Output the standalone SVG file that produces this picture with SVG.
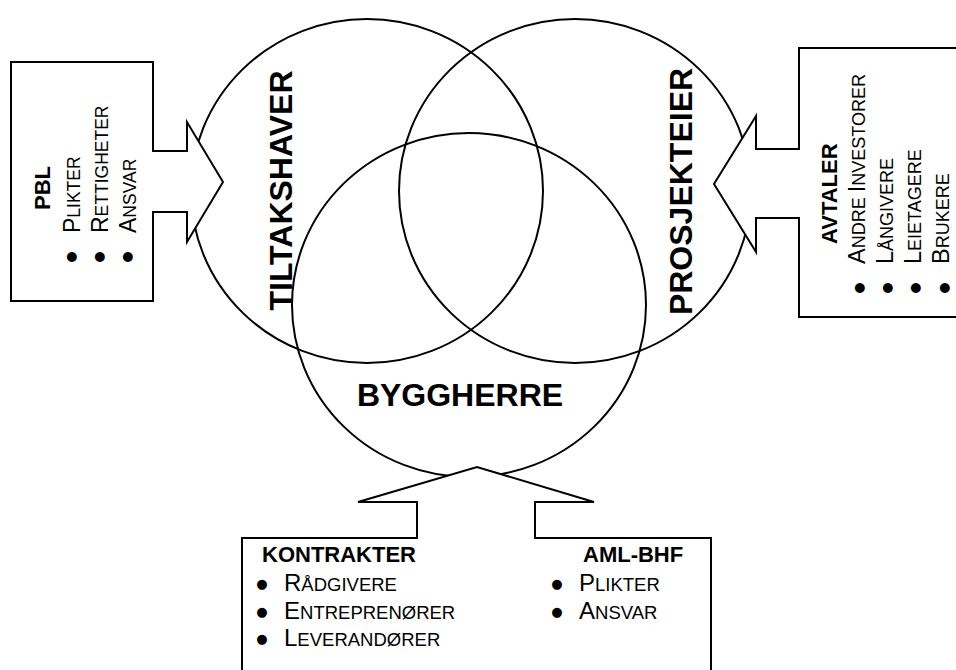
<svg xmlns="http://www.w3.org/2000/svg" width="956" height="670" viewBox="0 0 956 670">
  <style>
    .ring { fill: none; stroke: #000; stroke-width: 2; }
    .callout { fill: #fff; stroke: #000; stroke-width: 2; stroke-linejoin: miter; }
    text { font-family: "Liberation Sans", Arial, sans-serif; fill: #000; }
    .role { font-size: 32px; font-weight: bold; }
    .head { font-size: 22px; font-weight: bold; }
    .item { font-size: 23px; }
    .sc { font-size: 17.5px; }
    .item-l { font-size: 24px; }
    .sc-l { font-size: 18.5px; }
    .item-r { font-size: 23.5px; }
    .sc-r { font-size: 18px; }
    .dot { font-family: "DejaVu Sans", sans-serif; font-size: 13px; text-anchor: middle; }
  </style>

  <rect width="956" height="670" fill="#fff"/>

  <!-- three overlapping role circles -->
  <g id="tiltakshaver">
    <ellipse class="ring" cx="367" cy="191" rx="176" ry="172"/>
    <text class="role" text-anchor="middle" transform="translate(292,190.5) rotate(-90)">TILTAKSHAVER</text>
  </g>
  <g id="prosjekteier">
    <ellipse class="ring" cx="575" cy="191" rx="176" ry="172"/>
    <text class="role" text-anchor="middle" transform="translate(692,191.5) rotate(-90)">PROSJEKTEIER</text>
  </g>
  <g id="byggherre">
    <ellipse class="ring" cx="469" cy="305" rx="177" ry="172"/>
    <text class="role" text-anchor="middle" x="460" y="406">BYGGHERRE</text>
  </g>

  <!-- callout boxes with arrows pointing into the circles -->
  <g id="connectors">
    <polygon class="callout" points="11,62 153,62 153,151 187,151 187,122 223,182 187,242 187,212 153,212 153,301 11,301"/>
    <polygon class="callout" points="962,48 799,48 799,149 756,149 756,116 714,184 756,252 756,218 799,218 799,317 962,317"/>
    <polygon class="callout" points="242,676 242,538 417,538 417,502 358,502 477,467 594,502 535,502 535,538 711,538 711,676"/>
  </g>

  <!-- PBL box -->
  <g id="pbl">
    <text class="head" transform="translate(50,210) rotate(-90)">PBL</text>
    <text class="dot" transform="translate(75,257) rotate(-90)">●</text>
    <text class="item" transform="translate(80,233) rotate(-90)">P<tspan class="sc">LIKTER</tspan></text>
    <text class="dot" transform="translate(103,257) rotate(-90)">●</text>
    <text class="item" transform="translate(108,233) rotate(-90)">R<tspan class="sc">ETTIGHETER</tspan></text>
    <text class="dot" transform="translate(131,257) rotate(-90)">●</text>
    <text class="item" transform="translate(136,233) rotate(-90)">A<tspan class="sc">NSVAR</tspan></text>
  </g>

  <!-- AVTALER box -->
  <g id="avtaler">
    <text class="head" transform="translate(837,244) rotate(-90)">AVTALER</text>
    <text class="dot" transform="translate(862.5,288) rotate(-90)">●</text>
    <text class="item-r" transform="translate(865,264) rotate(-90)">A<tspan class="sc-r">NDRE </tspan>I<tspan class="sc-r">NVESTORER</tspan></text>
    <text class="dot" transform="translate(891,288) rotate(-90)">●</text>
    <text class="item-r" transform="translate(893,264) rotate(-90)">L<tspan class="sc-r">ÅNGIVERE</tspan></text>
    <text class="dot" transform="translate(918.5,288) rotate(-90)">●</text>
    <text class="item-r" transform="translate(921,264) rotate(-90)">L<tspan class="sc-r">EIETAGERE</tspan></text>
    <text class="dot" transform="translate(947.5,288) rotate(-90)">●</text>
    <text class="item-r" transform="translate(949,264) rotate(-90)">B<tspan class="sc-r">RUKERE</tspan></text>
  </g>

  <!-- KONTRAKTER / AML-BHF box -->
  <g id="kontrakter">
    <text class="head" x="262" y="562">KONTRAKTER</text>
    <text class="dot" x="262" y="588">●</text>
    <text class="item-l" x="284" y="591">R<tspan class="sc-l">ÅDGIVERE</tspan></text>
    <text class="dot" x="262" y="616">●</text>
    <text class="item-l" x="284" y="619">E<tspan class="sc-l">NTREPRENØRER</tspan></text>
    <text class="dot" x="262" y="643">●</text>
    <text class="item-l" x="284" y="646">L<tspan class="sc-l">EVERANDØRER</tspan></text>
  </g>
  <g id="aml-bhf">
    <text class="head" x="583" y="562">AML-BHF</text>
    <text class="dot" x="557" y="588">●</text>
    <text class="item-l" x="579" y="591">P<tspan class="sc-l">LIKTER</tspan></text>
    <text class="dot" x="557" y="616">●</text>
    <text class="item-l" x="579" y="619">A<tspan class="sc-l">NSVAR</tspan></text>
  </g>
</svg>
